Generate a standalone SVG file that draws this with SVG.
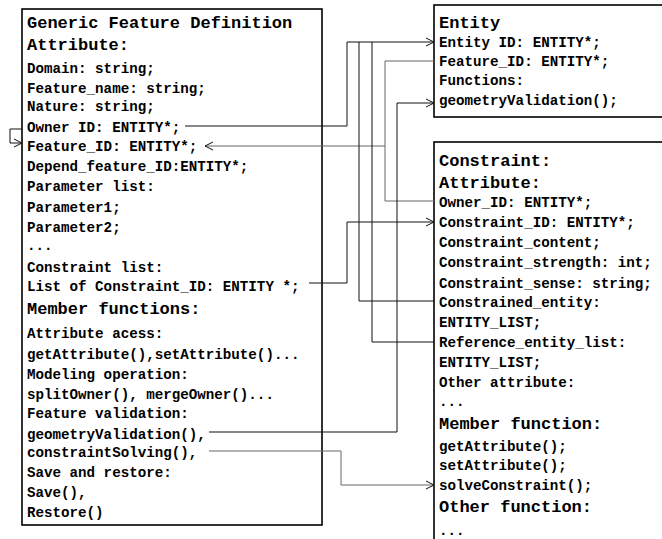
<svg xmlns="http://www.w3.org/2000/svg" width="662" height="539" viewBox="0 0 662 539">
<defs>
<style>
.box{fill:#fff;stroke:#000;stroke-width:1.6}
text{font-family:"Liberation Mono","DejaVu Sans Mono",monospace;font-weight:bold;fill:#000}
.s{font-size:14.2px}
.h{font-size:17px}
.c{fill:none;stroke:#111;stroke-width:1}
.g{fill:none;stroke:#666;stroke-width:1}
</style>
<marker id="a" markerWidth="10" markerHeight="10" refX="9" refY="5" orient="auto" markerUnits="userSpaceOnUse">
<path d="M1,1 L9,5 L1,9" fill="none" stroke="#111" stroke-width="1"/>
</marker>
</defs>
<g id="generic-feature">
<rect class="box" x="22" y="9" width="300" height="516" stroke-width="2"/>
<text class="h" x="27" y="28">Generic Feature Definition</text>
<text class="h" x="27" y="50">Attribute:</text>
<text class="s" x="27" y="73">Domain: string;</text>
<text class="s" x="27" y="92.5">Feature_name: string;</text>
<text class="s" x="27" y="111">Nature: string;</text>
<text class="s" x="27" y="131.5">Owner ID: ENTITY*;</text>
<text class="s" x="27" y="151">Feature_ID: ENTITY*;</text>
<text class="s" x="27" y="170.5">Depend_feature_ID:ENTITY*;</text>
<text class="s" x="27" y="191">Parameter list:</text>
<text class="s" x="27" y="211.5">Parameter1;</text>
<text class="s" x="27" y="231.5">Parameter2;</text>
<text class="s" x="27" y="250">...</text>
<text class="s" x="27" y="271.5">Constraint list:</text>
<text class="s" x="27" y="291">List of Constraint_ID: ENTITY *;</text>
<text class="h" x="27" y="313.5">Member functions:</text>
<text class="s" x="27" y="337.5">Attribute acess:</text>
<text class="s" x="27" y="359">getAttribute(),setAttribute()...</text>
<text class="s" x="27" y="379">Modeling operation:</text>
<text class="s" x="27" y="399">splitOwner(), mergeOwner()...</text>
<text class="s" x="27" y="418">Feature validation:</text>
<text class="s" x="27" y="439">geometryValidation(),</text>
<text class="s" x="27" y="457">constraintSolving(),</text>
<text class="s" x="27" y="477">Save and restore:</text>
<text class="s" x="27" y="497">Save(),</text>
<text class="s" x="27" y="517">Restore()</text>
</g>
<g id="entity">
<rect class="box" x="434" y="5" width="240" height="112"/>
<text class="h" x="439" y="27.5">Entity</text>
<text class="s" x="439" y="47">Entity ID: ENTITY*;</text>
<text class="s" x="439" y="66">Feature_ID: ENTITY*;</text>
<text class="s" x="439" y="85">Functions:</text>
<text class="s" x="439" y="105">geometryValidation();</text>
</g>
<g id="constraint">
<rect class="box" x="434" y="142" width="240" height="420"/>
<text class="h" x="439" y="166">Constraint:</text>
<text class="h" x="439" y="188">Attribute:</text>
<text class="s" x="439" y="206.5">Owner_ID: ENTITY*;</text>
<text class="s" x="439" y="226.5">Constraint_ID: ENTITY*;</text>
<text class="s" x="439" y="246.5">Constraint_content;</text>
<text class="s" x="439" y="266.5">Constraint_strength: int;</text>
<text class="s" x="439" y="287.5">Constraint_sense: string;</text>
<text class="s" x="439" y="306.5">Constrained_entity:</text>
<text class="s" x="439" y="326.5">ENTITY_LIST;</text>
<text class="s" x="439" y="346.5">Reference_entity_list:</text>
<text class="s" x="439" y="366.5">ENTITY_LIST;</text>
<text class="s" x="439" y="387">Other attribute:</text>
<text class="s" x="439" y="406">...</text>
<text class="h" x="439" y="429">Member function:</text>
<text class="s" x="439" y="451">getAttribute();</text>
<text class="s" x="439" y="470">setAttribute();</text>
<text class="s" x="439" y="490">solveConstraint();</text>
<text class="h" x="439" y="512">Other function:</text>
<text class="s" x="439" y="535">...</text>
</g>
<g id="connectors">
<path class="c" d="M10,129 H22 M10,129 V143 H22" marker-end="url(#a)"/>
<path class="c" d="M185,126 H347 V42 H434" marker-end="url(#a)"/>
<path class="g" d="M434,61 H385 V146 H205" marker-end="url(#a)"/>
<path class="g" d="M385,146 V201 H434"/>
<path class="c" d="M309,283 H347 V222 H434" marker-end="url(#a)"/>
<path class="c" d="M359,42 V301 H434"/>
<path class="c" d="M372,42 V342 H434"/>
<path class="c" d="M209,432 H397 V103 H434" marker-end="url(#a)"/>
<path class="g" d="M209,451 H341 V485 H434" marker-end="url(#a)"/>
</g>
</svg>
